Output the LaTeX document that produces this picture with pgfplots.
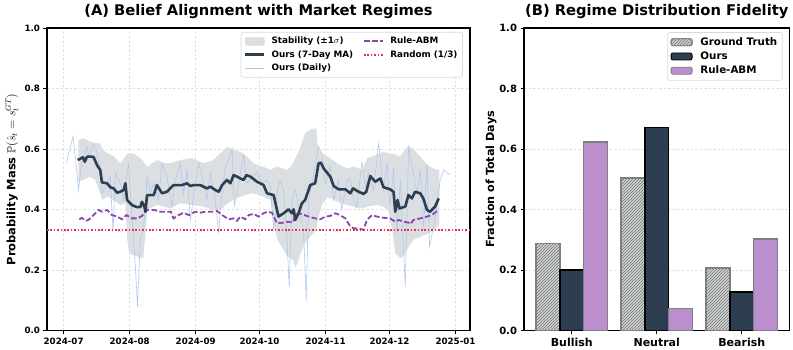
\documentclass[border=0pt]{standalone}
\usepackage{fontspec}
\setmainfont{DejaVu Sans}
\usepackage{amssymb}
\usepackage{pgfplots}
\usepackage{pgfplotstable}
\pgfplotsset{compat=1.18}
\usetikzlibrary{patterns}

\definecolor{ours}{HTML}{2C3E50}
\definecolor{ruleline}{HTML}{8E44AD}
\definecolor{rulebar}{HTML}{BB8FCE}
\definecolor{randred}{HTML}{E6324B}
\definecolor{bandc}{HTML}{DCDFE2}
\definecolor{dailyc}{HTML}{AFC8EE}
\definecolor{gtfill}{HTML}{D0D3D4}
\definecolor{gtedge}{HTML}{7F7F7F}
\definecolor{gridc}{HTML}{E0E0E0}

\pgfplotstableread{
day val
6.6 0.564
7.8 0.568
9.1 0.573
9.9 0.558
11.0 0.575
13.3 0.575
14.1 0.573
15.7 0.547
17.2 0.531
18.0 0.490
20.4 0.487
21.9 0.474
23.5 0.470
25.1 0.456
26.6 0.459
28.2 0.465
29.0 0.487
29.8 0.432
32.1 0.415
34.5 0.408
36.0 0.408
36.8 0.426
37.9 0.410
38.4 0.393
39.2 0.448
42.3 0.448
43.8 0.481
46.2 0.454
48.5 0.459
51.6 0.481
55.6 0.481
57.9 0.487
59.5 0.478
61.0 0.481
64.2 0.481
67.3 0.470
68.9 0.476
71.2 0.465
72.8 0.459
74.4 0.481
76.7 0.498
78.3 0.487
79.8 0.514
81.4 0.509
83.0 0.503
84.5 0.498
85.8 0.514
87.7 0.509
90.8 0.492
93.9 0.481
95.5 0.454
98.6 0.448
100.9 0.377
103.3 0.388
105.6 0.401
107.2 0.388
108.0 0.401
108.8 0.366
110.3 0.388
111.9 0.421
113.4 0.432
115.8 0.481
118.1 0.487
119.7 0.553
120.8 0.555
122.1 0.536
125.2 0.509
126.8 0.478
129.1 0.467
132.3 0.467
134.6 0.454
135.9 0.470
138.5 0.459
140.8 0.452
142.1 0.459
144.0 0.511
146.3 0.492
148.7 0.503
150.2 0.474
153.3 0.467
154.9 0.459
155.7 0.393
156.8 0.432
157.7 0.404
160.4 0.410
161.9 0.448
163.5 0.437
165.0 0.459
167.4 0.454
168.9 0.437
170.6 0.399
172.1 0.393
174.4 0.410
176.1 0.437
}\tabMA

\pgfplotstableread{
day val
7.4 0.368
8.6 0.373
10.2 0.363
11.7 0.366
14.1 0.382
16.4 0.399
18.0 0.393
20.4 0.399
22.7 0.382
25.1 0.377
27.4 0.368
29.4 0.382
32.1 0.371
34.5 0.371
36.8 0.379
39.2 0.399
42.3 0.399
45.4 0.393
48.5 0.393
50.4 0.393
51.6 0.371
54.0 0.382
56.3 0.390
58.7 0.382
61.8 0.393
64.2 0.390
66.5 0.393
69.7 0.393
72.0 0.396
74.4 0.382
77.5 0.368
79.8 0.371
81.4 0.363
83.0 0.377
85.3 0.368
86.9 0.382
89.2 0.386
91.5 0.377
93.9 0.388
95.5 0.393
97.8 0.390
100.2 0.355
103.3 0.357
105.6 0.360
107.6 0.357
108.8 0.382
110.3 0.388
111.9 0.385
115.0 0.377
118.1 0.371
120.5 0.368
122.9 0.377
125.2 0.379
127.6 0.388
129.8 0.382
132.3 0.371
134.6 0.344
136.2 0.338
138.5 0.338
140.8 0.333
142.4 0.366
144.8 0.382
147.1 0.377
150.2 0.373
153.3 0.371
155.7 0.360
157.3 0.366
159.6 0.360
162.0 0.357
162.8 0.352
164.3 0.366
167.4 0.371
170.6 0.377
172.9 0.382
175.3 0.395
176.1 0.399
}\tabRule

% stability band: upper edge left to right, then lower edge right to left
\pgfplotstableread{
day val
6.9 0.630
9.2 0.636
12.5 0.625
14.9 0.620
17.2 0.619
18.2 0.600
20.5 0.586
23.3 0.578
26.6 0.553
29.0 0.575
29.9 0.586
30.8 0.586
32.7 0.586
35.1 0.575
37.4 0.560
38.4 0.550
39.3 0.542
42.1 0.555
44.0 0.564
46.8 0.555
50.1 0.553
54.8 0.564
60.4 0.570
65.6 0.553
70.3 0.564
73.6 0.586
76.9 0.608
79.7 0.597
83.0 0.591
86.2 0.575
89.1 0.553
93.8 0.542
97.1 0.531
98.9 0.538
100.4 0.542
103.1 0.535
105.0 0.531
106.3 0.540
107.7 0.553
108.8 0.570
110.2 0.590
111.2 0.608
113.4 0.652
115.8 0.665
118.6 0.669
119.5 0.600
121.5 0.585
123.9 0.575
126.6 0.562
128.4 0.553
133.2 0.536
136.0 0.542
137.9 0.538
140.2 0.531
142.6 0.570
147.3 0.582
150.1 0.591
152.4 0.586
154.3 0.584
155.7 0.582
158.1 0.575
159.5 0.590
161.4 0.608
164.2 0.602
167.4 0.575
170.8 0.547
173.6 0.536
176.4 0.531
176.4 0.350
173.6 0.330
170.8 0.320
167.4 0.310
164.2 0.300
161.4 0.270
159.5 0.244
158.1 0.240
155.7 0.256
154.3 0.330
152.4 0.399
150.1 0.410
147.3 0.415
142.6 0.410
140.2 0.404
137.9 0.404
136.0 0.410
133.2 0.415
128.4 0.426
126.6 0.435
123.9 0.440
121.5 0.420
119.5 0.370
118.6 0.330
115.8 0.311
113.4 0.290
111.2 0.256
110.2 0.230
108.8 0.210
107.7 0.234
106.3 0.240
105.0 0.244
103.1 0.270
100.4 0.300
98.9 0.344
97.1 0.432
93.8 0.443
89.1 0.454
86.2 0.450
83.0 0.443
79.7 0.432
76.9 0.420
73.6 0.399
70.3 0.399
65.6 0.410
60.4 0.415
54.8 0.421
50.1 0.404
46.8 0.410
44.0 0.415
42.1 0.410
39.3 0.399
38.4 0.320
37.4 0.239
35.1 0.244
32.7 0.250
30.8 0.256
29.9 0.300
29.0 0.421
26.6 0.415
23.3 0.432
20.5 0.443
18.2 0.432
17.2 0.454
14.9 0.498
12.5 0.509
9.2 0.498
6.9 0.492
}\tabBand

\pgfplotstableread{
day val
1.3 0.553
4.4 0.641
6.0 0.542
7.0 0.465
8.6 0.564
11.0 0.608
11.7 0.575
14.1 0.619
15.7 0.586
16.9 0.542
18.0 0.454
20.4 0.487
21.9 0.509
23.2 0.327
24.3 0.520
26.6 0.487
28.2 0.432
30.5 0.553
32.1 0.377
33.7 0.211
34.7 0.079
36.0 0.300
37.6 0.344
39.2 0.509
40.7 0.454
42.3 0.487
44.6 0.432
46.2 0.553
48.5 0.509
50.9 0.410
52.4 0.498
54.8 0.553
56.3 0.454
57.9 0.531
59.5 0.366
61.0 0.443
63.4 0.553
65.7 0.487
67.3 0.432
68.9 0.520
71.2 0.432
72.8 0.322
73.6 0.399
75.9 0.542
77.5 0.564
79.1 0.602
80.1 0.410
82.2 0.487
84.5 0.580
86.1 0.487
88.5 0.509
90.8 0.525
93.1 0.487
95.5 0.498
97.1 0.476
98.6 0.333
100.2 0.454
101.7 0.498
103.3 0.465
104.9 0.300
105.9 0.145
107.2 0.432
108.8 0.465
110.3 0.410
112.7 0.322
113.9 0.101
115.0 0.432
116.6 0.487
118.1 0.542
119.7 0.608
121.3 0.586
122.9 0.487
125.2 0.542
126.8 0.432
129.1 0.498
130.6 0.399
133.1 0.498
134.6 0.498
136.2 0.432
137.7 0.410
140.1 0.558
141.6 0.476
143.2 0.520
145.5 0.465
147.9 0.619
150.2 0.465
151.8 0.553
153.3 0.410
154.9 0.536
156.5 0.322
158.1 0.498
160.4 0.145
162.0 0.613
163.6 0.542
165.9 0.454
167.4 0.531
169.0 0.344
170.6 0.553
171.8 0.278
173.7 0.344
175.3 0.410
176.8 0.498
178.4 0.531
181.5 0.514
}\tabDaily

\begin{document}
\begin{tikzpicture}
% ---------------- Panel A ----------------
\begin{axis}[
  at={(47pt,19.3pt)}, anchor=south west, scale only axis,
  width=423pt, height=302.7pt,
  xmin=-7.8, xmax=190.8, ymin=0, ymax=1,
  xtick={0,31,62,92,123,153,184},
  xticklabels={2024-07,2024-08,2024-09,2024-10,2024-11,2024-12,2025-01},
  ytick={0,0.2,0.4,0.6,0.8,1.0},
  yticklabels={0.0,0.2,0.4,0.6,0.8,1.0},
  tick label style={font=\bfseries\fontsize{8.7}{10}\selectfont},
  axis line style={line width=1.4pt},
  tick align=outside, tick pos=left, major tick length=3.5pt,
  tick style={black, line width=0.9pt},
  grid=major, grid style={gridc, line width=0.6pt, dash pattern=on 2.5pt off 2pt},
  ylabel={Probability Mass $\mathbb{P}(\hat{s}_t = s_t^{GT})$},
  ylabel style={at={(axis description cs:-0.083,0.5)}, anchor=center,
    font=\bfseries\fontsize{11.5}{13}\selectfont},
  title={(A) Belief Alignment with Market Regimes},
  title style={at={(axis description cs:0.5,1)}, anchor=base, yshift=6pt,
    font=\bfseries\fontsize{14.7}{16}\selectfont},
  legend columns=2,
  legend cell align=left,
  legend style={at={(axis description cs:0.983,0.987)}, anchor=north east,
    font=\bfseries\fontsize{8.8}{10}\selectfont,
    draw=gray!30, rounded corners=2pt, fill=white, line width=0.7pt,
    /tikz/every even column/.append style={column sep=8pt},
    row sep=1.2pt, inner sep=3pt},
]
\addlegendimage{legend image code/.code={\fill[bandc] (0pt,-4pt) rectangle (19pt,4pt); \path (24pt,0pt);}}
\addlegendentry{Stability (±1$\sigma$)}
\addlegendimage{legend image code/.code={\draw[ruleline, line width=1.8pt, dash pattern=on 5.5pt off 2.5pt] (0pt,0pt) -- (19pt,0pt); \path (24pt,0pt);}}
\addlegendentry{Rule-ABM}
\addlegendimage{legend image code/.code={\draw[ours, line width=2.6pt] (0pt,0pt) -- (19pt,0pt); \path (24pt,0pt);}}
\addlegendentry{Ours (7-Day MA)}
\addlegendimage{legend image code/.code={\draw[randred, line width=1.6pt, dash pattern=on 1.6pt off 1.8pt] (0pt,0pt) -- (19pt,0pt); \path (24pt,0pt);}}
\addlegendentry{Random (1/3)}
\addlegendimage{legend image code/.code={\draw[dailyc, line width=1pt] (0pt,0pt) -- (19pt,0pt); \path (24pt,0pt);}}
\addlegendentry{Ours (Daily)}

\addplot[fill=bandc, draw=none, forget plot] table[x=day, y=val] {\tabBand};
\addplot[dailyc, line width=0.6pt, forget plot] table[x=day, y=val] {\tabDaily};
\addplot[randred, line width=1.6pt, dash pattern=on 1.6pt off 1.8pt, forget plot]
  coordinates {(-7.8,0.3333) (190.8,0.3333)};
\addplot[ruleline, line width=1.8pt, dash pattern=on 5.5pt off 2.5pt, forget plot] table[x=day, y=val] {\tabRule};
\addplot[ours, line width=2.6pt, line join=round, forget plot] table[x=day, y=val] {\tabMA};
\end{axis}

% ---------------- Panel B ----------------
\begin{axis}[
  at={(524pt,19.3pt)}, anchor=south west, scale only axis,
  width=265.5pt, height=302.7pt,
  xmin=-0.562, xmax=2.562, ymin=0, ymax=1,
  xtick={0,1,2}, xticklabels={Bullish,Neutral,Bearish},
  ytick={0,0.2,0.4,0.6,0.8,1.0},
  yticklabels={0.0,0.2,0.4,0.6,0.8,1.0},
  x tick label style={font=\bfseries\fontsize{11}{13}\selectfont},
  y tick label style={font=\bfseries\fontsize{10}{12}\selectfont},
  axis line style={line width=1.4pt},
  tick align=outside, tick pos=left, major tick length=3.5pt,
  tick style={black, line width=0.9pt},
  ymajorgrids, grid style={gridc, line width=0.6pt, dash pattern=on 2.5pt off 2pt},
  ylabel={Fraction of Total Days},
  ylabel style={at={(axis description cs:-0.124,0.5)}, anchor=center,
    font=\bfseries\fontsize{11.2}{13}\selectfont},
  title={(B) Regime Distribution Fidelity},
  title style={at={(axis description cs:0.5,1)}, anchor=base, yshift=6pt,
    font=\bfseries\fontsize{14.7}{16}\selectfont},
  legend cell align=left,
  legend style={at={(axis description cs:0.974,0.986)}, anchor=north east,
    font=\bfseries\fontsize{10.3}{12}\selectfont,
    draw=gray!30, rounded corners=2pt, fill=white, line width=0.7pt,
    row sep=1pt, inner sep=3pt},
]
\addlegendimage{legend image code/.code={\filldraw[fill=gtfill, draw=gtedge, line width=0.9pt, postaction={pattern=north east lines, pattern color=gray!90!black}] (0pt,-3.5pt) rectangle (21pt,3.5pt); \path (27pt,0pt);}}
\addlegendentry{Ground Truth}
\addlegendimage{legend image code/.code={\filldraw[fill=ours, draw=black, line width=0.9pt] (0pt,-3.5pt) rectangle (21pt,3.5pt); \path (27pt,0pt);}}
\addlegendentry{Ours}
\addlegendimage{legend image code/.code={\filldraw[fill=rulebar, draw=gtedge, line width=0.9pt] (0pt,-3.5pt) rectangle (21pt,3.5pt); \path (27pt,0pt);}}
\addlegendentry{Rule-ABM}

\addplot[ybar, bar width=0.28, bar shift=-0.28, fill=gtfill, draw=gtedge, line width=1.4pt,
  postaction={pattern=north east lines, pattern color=gray!90!black}, forget plot]
  coordinates {(0,0.288) (1,0.505) (2,0.207)};
\addplot[ybar, bar width=0.28, bar shift=0, fill=ours, draw=black, line width=1.4pt, forget plot]
  coordinates {(0,0.200) (1,0.672) (2,0.128)};
\addplot[ybar, bar width=0.28, bar shift=0.28, fill=rulebar, draw=gtedge, line width=1.4pt, forget plot]
  coordinates {(0,0.624) (1,0.073) (2,0.303)};
\end{axis}
\pgfresetboundingbox
\useasboundingbox (0pt,0pt) rectangle (793pt,350pt);
\end{tikzpicture}
\end{document}
